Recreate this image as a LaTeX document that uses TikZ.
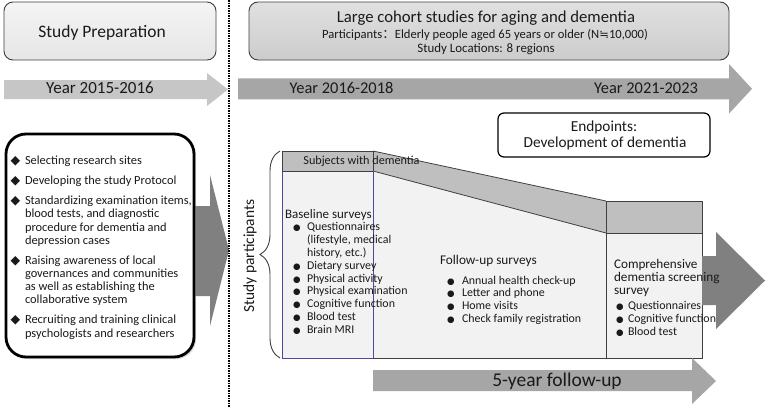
\documentclass[tikz,border=0pt]{standalone}
\usepackage{fontspec}
\setmainfont{Carlito}
\newfontfamily\cjkf{Noto Sans CJK SC}
\newfontfamily\dvs{DejaVu Sans}
\usetikzlibrary{shadows,decorations.pathreplacing}
\definecolor{lightfill}{HTML}{F2F2F2}
\definecolor{bandgray}{HTML}{BFBFBF}
\definecolor{edgegray}{HTML}{404040}
\definecolor{baseblue}{HTML}{4A4A9C}
\definecolor{arrowdark}{HTML}{808080}
\definecolor{arrowmid}{HTML}{A6A6A6}
\definecolor{arrowlight}{HTML}{C6C6C6}
\definecolor{txtcol}{HTML}{1A1A1A}
\newcommand\dmd{\makebox[13.5pt][l]{\hspace*{-1pt}\dvs\fontsize{12.5}{12.5}\selectfont ◆}}
\newcommand\bul[1]{\makebox[#1][l]{\dvs\fontsize{8.6}{8.6}\selectfont ●}}
\newcommand\ind{\hspace*{13.5pt}}
\begin{document}
\begin{tikzpicture}[x=1pt,y=-1pt,
  txt/.style={inner sep=0pt, outer sep=0pt, text=txtcol},
  topbox/.style={draw=edgegray, line width=0.9pt, rounded corners=9pt},
  lst/.style={inner sep=0pt, outer sep=0pt, anchor=north west, text=txtcol},
  edge/.style={draw=edgegray, line width=0.8pt},
  fs/.style={font=\fontsize{#1}{#1}\selectfont}
]
\useasboundingbox[fill=white] (0,0) rectangle (778,407);

% dotted divider
\coordinate (dtop) at (229,0);
\coordinate (dbot) at (229,407);

% ---- top left: study preparation
\node[topbox, top color=white!96!black, bottom color=white!90!black,
      minimum width=212pt, minimum height=58pt] (spbox) at (110,31) {};
\node[txt, anchor=base, fs=17.5] (sptext) at (102,37) {Study Preparation};

\fill[arrowlight] (4,80) -- (207,80) -- (207,73) -- (228,89.5) -- (207,106) -- (207,99) -- (4,99) -- cycle;
\node[txt, anchor=base, fs=17] (y1) at (100,93.3) {Year 2015-2016};

% ---- top right: cohort box
\node[topbox, top color=white!88!black, bottom color=white!80!black,
      minimum width=480pt, minimum height=58pt] (cbox) at (489,31) {};
\node[txt, anchor=base, fs=16.7] (ctitle) at (486,22.7) {Large cohort studies for aging and dementia};
\node[txt, anchor=base, fs=12.6] (cpart) at (485,38.7) {Participants{\cjkf ：}Elderly people aged 65 years or older (N{\dvs\fontsize{11.5}{11.5}\selectfont ≒}10,000)};
\node[txt, anchor=base, fs=12.9] (cloc) at (486,52.3) {Study Locations: 8 regions};

\fill[arrowmid] (238,78.3) -- (729,78.3) -- (729,64) -- (752,88.8) -- (729,113.6) -- (729,99.3) -- (238,99.3) -- cycle;
\node[txt, anchor=base, fs=16.4] (y2) at (341.5,93.3) {Year 2016-2018};
\node[txt, anchor=base, fs=16.4] (y3) at (646,93.3) {Year 2021-2023};

% ---- endpoints
\node[draw=black, line width=1.2pt, rounded corners=6pt, fill=white,
      minimum width=212pt, minimum height=44pt] (endp) at (604,135) {};
\node[txt, anchor=base, fs=15.3] (endp1) at (604,131.7) {Endpoints:};
\node[txt, anchor=base, fs=15.3] (endp2) at (605,147.3) {Development of dementia};

% ---- left big arrow and preparation list
\fill[arrowdark] (180,206) -- (210,206) -- (210,175) -- (229,250) -- (210,326) -- (210,296) -- (180,296) -- cycle;
\node[draw=black, line width=2.8pt, rounded corners=20pt, fill=white,
      drop shadow={shadow xshift=2pt, shadow yshift=-2pt, fill=gray!60},
      minimum width=188pt, minimum height=223pt] (pbox) at (100,245.5) {};
\node[lst, font=\fontsize{12.4}{13.2}\selectfont] (plist) at (11.5,155.5) {%
\begin{tabular}{@{}l@{}}
\dmd Selecting research sites\\[6.8pt]
\dmd Developing the study Protocol\\[6.8pt]
\dmd Standardizing examination items,\\
\ind blood tests, and diagnostic\\
\ind procedure for dementia and\\
\ind depression cases\\[6.8pt]
\dmd Raising awareness of local\\
\ind governances and communities\\
\ind as well as establishing the\\
\ind collaborative system\\[6.8pt]
\dmd Recruiting and training clinical\\
\ind psychologists and researchers
\end{tabular}};

\draw[black, line width=1.5pt, dash pattern=on 1.5pt off 1pt] (dtop) -- (dbot);

% ---- study participants block
\node[txt, anchor=base, rotate=90, fs=15.4] (sprt) at (254,256) {Study participants};
\coordinate (brtop) at (280,151);
\coordinate (brbot) at (280,358);
\draw[edgegray, line width=0.9pt, decorate, decoration={brace, amplitude=20pt}] (brbot) -- (brtop);

\fill[lightfill] (282,171) -- (373,171) -- (606,233) -- (702,233) -- (702,358) -- (282,358) -- cycle;
\fill[bandgray] (282,151) rectangle (373,171);
\fill[bandgray] (373,151) -- (606,201) -- (606,233) -- (373,171) -- cycle;
\fill[bandgray] (606,201) rectangle (702,233);

\coordinate (b1) at (282,151);
\coordinate (b2) at (373,151);
\coordinate (b3) at (373,171);
\coordinate (b4) at (282,171);
\coordinate (b5) at (282,358);
\coordinate (b6) at (373,358);
\coordinate (c1) at (606,201);
\coordinate (c2) at (702,201);
\coordinate (c3) at (702,358);
\coordinate (c4) at (606,358);
\coordinate (c5) at (606,233);
\coordinate (c6) at (702,233);

\draw[edge] (b4) -- (b1) -- (b2) -- (b3) -- cycle;
\draw[edge] (b2) -- (c1);
\draw[edge] (b3) -- (c5);
\draw[edge] (b6) -- (c4);
\draw[edge] (c1) -- (c2) -- (c3) -- (c4) -- cycle;
\draw[edge] (c5) -- (c6);
\draw[baseblue, line width=0.8pt] (b4) -- (b5) -- (b6) -- (b3);

% right dark arrow
\fill[arrowdark] (702,256) -- (716,256) -- (716,232) -- (765,280.5) -- (716,329) -- (716,305) -- (702,305) -- cycle;

% bottom arrow
\fill[arrowmid] (373,370) -- (692,370) -- (692,358) -- (716,381) -- (692,404) -- (692,391) -- (373,391) -- cycle;
\node[txt, anchor=base, fs=19.5] (fu5) at (557,386.7) {5-year follow-up};

% texts in block
\node[txt, anchor=base, fs=12.2] (subj) at (361.5,164) {Subjects with dementia};
\node[txt, anchor=base west, fs=13] (bsh) at (285,218.3) {Baseline surveys};
\node[lst, font=\fontsize{11.9}{12.8}\selectfont] (bsl) at (293,221.9) {%
\begin{tabular}{@{}l@{}}
\bul{14pt}Questionnaires\\
\hspace*{14pt}(lifestyle, medical\\
\hspace*{14pt}history, etc.)\\
\bul{14pt}Dietary survey\\
\bul{14pt}Physical activity\\
\bul{14pt}Physical examination\\
\bul{14pt}Cognitive function\\
\bul{14pt}Blood test\\
\bul{14pt}Brain MRI
\end{tabular}};

\node[txt, anchor=base west, fs=13.3] (fuh) at (440,264.3) {Follow-up surveys};
\node[lst, font=\fontsize{11.9}{12.9}\selectfont] (ful) at (447,275) {%
\begin{tabular}{@{}l@{}}
\bul{15pt}Annual health check-up\\
\bul{15pt}Letter and phone\\
\bul{15pt}Home visits\\
\bul{15pt}Check family registration
\end{tabular}};

\node[lst, font=\fontsize{13.2}{13}\selectfont] (cmh) at (614,259.2) {%
\begin{tabular}{@{}l@{}}
Comprehensive\\
dementia screening\\
survey
\end{tabular}};
\node[lst, font=\fontsize{11.9}{12.7}\selectfont] (cml) at (616,301.1) {%
\begin{tabular}{@{}l@{}}
\bul{12pt}Questionnaires\\
\bul{12pt}Cognitive function\\
\bul{12pt}Blood test
\end{tabular}};
\end{tikzpicture}
\end{document}
